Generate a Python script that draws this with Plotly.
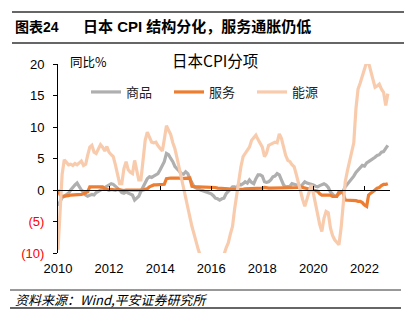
import pandas as pd
import plotly.graph_objects as go

months = pd.date_range("2010-01-01", "2022-12-01", freq="MS")

goods = [
    -2.5, -1.8, -1.2, -1.0, -0.8, -0.5, 0.0, 0.5, 0.8, 1.1, 0.5, 0.0,
    -0.3, -0.8, -1.0, -0.9, -0.7, -0.8, -0.4, -0.2, 0.0, 0.2, 0.4, 0.5,
    0.8, 1.0, 0.9, 0.5, 0.3, 0.0, -0.4, -0.5, -0.3, -0.5, -0.6, -0.8,
    -1.6, -1.2, -1.0, -0.2, 0.5, 1.2, 1.8, 2.1, 2.0, 2.2, 2.4, 2.6,
    3.2, 3.9, 4.5, 5.8, 5.6, 5.0, 4.5, 3.7, 3.4, 3.0, 2.6, 2.5,
    2.9, 2.6, 1.8, 1.0, 0.5, 0.3, 0.1, 0.0, -0.1, -0.2, -0.3, -0.5,
    -0.6, -0.9, -1.3, -1.4, -1.6, -1.4, -1.3, -0.6, -0.2, 0.0, 0.5, 0.5,
    0.3, 1.0, 0.8, 1.0, 1.3, 1.1, 1.6, 1.2, 1.0, 1.8, 2.4, 2.4,
    2.2, 1.3, 1.2, 1.3, 1.6, 2.1, 2.2, 2.6, 2.4, 1.6, 0.8, 0.5,
    0.5, 0.6, 1.0, 0.9, 0.8, 0.6, 0.6, 0.9, 1.3, 1.1, 1.0, 1.0,
    0.8, 0.6, 0.5, 0.7, 0.9, 1.0, 0.8, 0.4, -0.3, -0.6, -1.0, -0.9,
    -0.7, -0.5, -0.2, 0.5, 0.9, 1.2, 1.6, 2.2, 2.8, 3.2, 3.6, 3.9,
    3.8, 4.3, 4.5, 4.7, 4.9, 5.2, 5.5, 5.6, 6.0, 6.1, 6.6, 7.1,
]

services = [
    0.0, -0.8, -1.0, -1.0, -0.9, -0.9, -0.8, -0.8, -0.8, -0.7, -0.7, -0.7,
    -0.6, -0.5, -0.3, 0.5, 0.5, 0.5, 0.5, 0.5, 0.5, 0.5, 0.2, 0.1,
    0.0, 0.1, 0.0, 0.0, 0.1, 0.0, 0.0, -0.1, 0.0, 0.0, -0.1, 0.0,
    0.0, 0.0, 0.0, 0.0, 0.0, 0.1, 0.2, 0.5, 0.7, 0.8, 0.8, 0.8,
    0.8, 0.8, 0.9, 1.8, 1.9, 1.9, 1.9, 1.9, 2.0, 1.9, 1.8, 1.8,
    1.8, 1.8, 1.9, 0.6, 0.5, 0.5, 0.5, 0.5, 0.5, 0.5, 0.5, 0.5,
    0.4, 0.4, 0.4, 0.3, 0.3, 0.3, 0.2, 0.2, 0.2, 0.1, 0.1, 0.1,
    0.1, 0.0, 0.1, 0.1, 0.2, 0.2, 0.2, 0.2, 0.2, 0.3, 0.3, 0.3,
    0.3, 0.4, 0.3, 0.3, 0.3, 0.3, 0.3, 0.4, 0.3, 0.4, 0.4, 0.3,
    0.4, 0.4, 0.3, 0.3, 0.4, 0.4, 0.5, 0.4, 0.3, 0.2, 0.2, 0.1,
    0.0, -0.1, -0.2, -0.6, -0.8, -0.8, -0.8, -0.7, -0.8, -1.0, -1.0, -1.0,
    -0.3, -0.3, -0.4, -1.6, -1.6, -1.6, -1.6, -1.6, -1.7, -1.8, -1.8, -2.0,
    -2.4, -2.6, -0.8, -0.5, -0.3, 0.0, 0.3, 0.4, 0.7, 0.9, 0.9, 1.0,
]

energy = [
    -9.5, -3.5, 2.5, 4.8, 4.3, 4.0, 4.1, 3.9, 4.2, 4.0, 4.3, 4.6,
    3.9, 4.1, 5.5, 6.8, 7.1, 6.0, 5.8, 6.6, 7.2, 6.8, 6.2, 6.9,
    6.0, 5.6, 5.3, 4.0, 2.5, 1.0, 1.0, 3.4, 4.5, 3.2, 2.8, 2.6,
    4.7, 3.0, 1.6, 1.6, 4.5, 7.9, 9.2, 8.5, 7.6, 7.5, 7.6, 7.0,
    6.5, 6.2, 8.0, 10.2, 9.5, 8.8, 7.5, 6.5, 5.0, 3.5, 1.5, 0.3,
    -1.5, -3.2, -4.5, -5.8, -7.0, -8.4, -9.5, -10.5, -11.5, -12.0, -12.0, -12.2,
    -12.5, -12.5, -12.3, -12.4, -11.5, -11.0, -10.3, -9.2, -8.4, -7.0, -5.8, -3.0,
    -0.5, 2.0, 3.7, 5.3, 5.8, 6.3, 6.8, 7.9, 8.4, 8.7, 8.0, 7.4,
    6.8, 5.3, 5.8, 7.1, 7.3, 7.4, 7.6, 7.5, 8.9, 8.2, 6.8, 5.5,
    4.7, 4.5, 4.0, 3.7, 2.5, 1.0, 0.0, -1.5, -2.6, -1.5, 0.0, 0.8,
    -0.5, -2.4, -3.9, -5.5, -6.6, -4.5, -3.4, -3.6, -6.0, -7.2, -7.9, -8.4,
    -8.7, -6.0, -2.5, 1.3, 3.0, 4.5, 6.5, 7.5, 12.9, 16.0, 17.0, 18.2,
    19.5, 20.3, 20.2, 19.0, 17.6, 16.3, 16.5, 16.8, 16.0, 15.5, 13.4, 15.3,
]

series_names = ["商品", "服务", "能源"]
series_colors = ["#AFAFAF", "#ED7D31", "#F8CBAD"]
y_ticks = [-10, -5, 0, 5, 10, 15, 20]
y_labels = ['<span style="color:#FF0000">(10)</span>', '<span style="color:#FF0000">(5)</span>',
            "0", "5", "10", "15", "20"]

FONT = "Liberation Sans, Arial, Noto Sans CJK SC, sans-serif"
CJK = "Noto Sans CJK SC, Liberation Sans, sans-serif"

fig = go.Figure()
for name, vals, col in zip(series_names, [goods, services, energy], series_colors):
    fig.add_trace(go.Scatter(x=months, y=vals, mode="lines", name=name,
                             line=dict(color=col, width=3.2)))

xr = ["2010-01-01", "2023-01-01"]
PW, PH, ML, MB = 332, 189, 58, 83
fig.update_layout(
    width=416, height=336,
    margin=dict(l=ML, r=26, t=64, b=MB),
    paper_bgcolor="white", plot_bgcolor="white",
    font=dict(family=FONT, size=13, color="#000000"),
    showlegend=True,
    legend=dict(orientation="h", x=(86 - ML) / PW, y=(336 - 92 - MB) / PH,
                xanchor="left", yanchor="middle",
                entrywidth=38, entrywidthmode="pixels",
                font=dict(family=CJK, size=13, color="#222222"),
                bgcolor="rgba(0,0,0,0)", itemwidth=30, tracegroupgap=0),
    xaxis=dict(range=xr, showgrid=False, zeroline=False, showline=False,
               ticks="", tickformat="%Y", dtick="M24", tick0="2010-01-01",
               tickfont=dict(family=FONT, size=13), ticklabelstandoff=6),
    xaxis2=dict(range=xr, overlaying="x", anchor="free", position=1/3,
                showgrid=False, zeroline=False, showline=True, linecolor="#000000",
                linewidth=1, ticks="inside", ticklen=4, tickcolor="#000000",
                dtick="M24", tick0="2010-01-01", showticklabels=False),
    yaxis=dict(range=[-10, 20], tickvals=y_ticks, ticktext=y_labels,
               showgrid=False, zeroline=False, showline=True, linecolor="#000000",
               linewidth=1, ticks="outside", ticklen=4, tickcolor="#000000",
               tickfont=dict(family=FONT, size=13), ticklabelstandoff=6),
)

fig.add_trace(go.Scatter(x=[months[0]], y=[None], xaxis="x2", showlegend=False,
                         hoverinfo="skip"))

annots = [
    dict(text="<b>图表24</b>", x=13, y=27, font=dict(family=FONT, size=14, color="#000000")),
    dict(text="<b>日本 CPI 结构分化，服务通胀仍低</b>", x=81, y=27,
         font=dict(family=FONT, size=15, color="#000000")),
    dict(text="同比%", x=68, y=62, font=dict(family=CJK, size=12.5, color="#000000")),
    dict(text="日本CPI分项", x=170, y=60, font=dict(family=CJK, size=15.5, color="#000000")),
    dict(text="<i>资料来源：Wind,平安证券研究所</i>", x=13, y=299,
         font=dict(family=CJK, size=13, color="#000000")),
]
for a in annots:
    fig.add_annotation(xref="paper", yref="paper", showarrow=False, xanchor="left",
                       yanchor="middle", text=a["text"], font=a["font"],
                       x=(a["x"] - ML) / PW, y=(336 - a["y"] - MB) / PH)

for yy, x0, x1, w in [(12, 12, 404, 1.5), (43, 12, 404, 1.5), (290, 10, 401, 1), (308, 10, 401, 1.5)]:
    fig.add_shape(type="line", xref="paper", yref="paper",
                  x0=(x0 - ML) / PW, x1=(x1 - ML) / PW,
                  y0=(336 - yy - MB) / PH, y1=(336 - yy - MB) / PH,
                  line=dict(color="#333333", width=w))

fig.write_html("out.html")
